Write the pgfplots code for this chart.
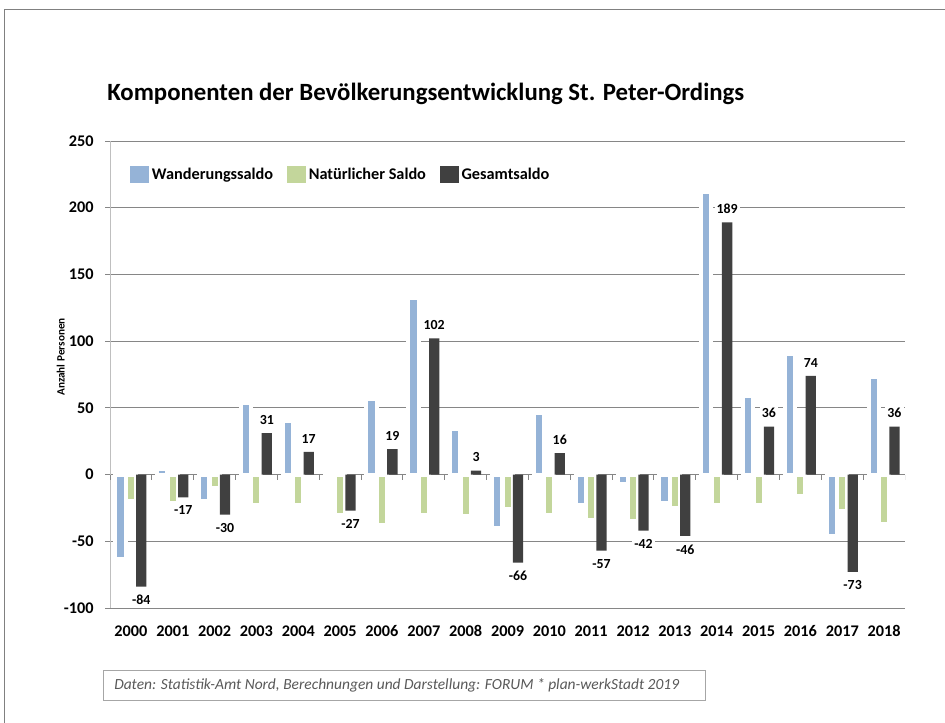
\documentclass[border=0pt]{standalone}
\usepackage{fontspec}
\setmainfont{Carlito}
\usepackage{pgfplots}
\usepackage{pgfplotstable}
\pgfplotsset{compat=1.18}
\definecolor{wblue}{HTML}{95B3D7}
\definecolor{ngreen}{HTML}{C3D69B}
\definecolor{gdark}{HTML}{404040}
\definecolor{gridgray}{HTML}{868686}
\definecolor{axisgray}{HTML}{BFBFBF}
\definecolor{srcgray}{HTML}{595959}

\pgfplotstableread{
x W N G
0 -63 -20 -84
1 4 -21 -17
2 -20 -10 -30
3 54 -23 31
4 40 -23 17
5 3 -30 -27
6 57 -38 19
7 132 -30 102
8 34 -31 3
9 -40 -26 -66
10 46 -30 16
11 -23 -34 -57
12 -7 -35 -42
13 -21 -25 -46
14 212 -23 189
15 59 -23 36
16 90 -16 74
17 -46 -27 -73
18 73 -37 36
}\data

\pgfplotsset{sqlegend/.style={legend image code/.code={\fill[##1,draw=none] (0pt,-6.4pt) rectangle (14.25pt,6.4pt);}}}

\begin{document}
\begin{tikzpicture}
\useasboundingbox (0,0) rectangle (708.75pt,541.5pt);
\fill[white] (0,0) rectangle (708.75pt,541.5pt);
\draw[gray, line width=0.75pt] (3pt,-2pt) -- (3pt,534pt) -- (712pt,534pt);
\node[anchor=base west, font=\bfseries\fontsize{18.6}{22}\selectfont, inner sep=0pt] at (80.25pt,466pt) {Komponenten der Bevölkerungsentwicklung St. Peter-Ordings};
\begin{axis}[
  at={(82.5pt,85.5pt)}, anchor=south west,
  scale only axis, width=596.25pt, height=350.25pt,
  xmin=-0.5, xmax=18.5, ymin=-100, ymax=250,
  ytick={-100,-50,...,250},
  xtick={0,...,18},
  xticklabels={2000,2001,2002,2003,2004,2005,2006,2007,2008,2009,2010,2011,2012,2013,2014,2015,2016,2017,2018},
  /pgf/number format/assume math mode=true,
  ybar,
  axis x line*=bottom, axis y line*=left,
  x axis line style={gridgray, line width=0.75pt},
  y axis line style={axisgray, line width=0.75pt},
  xtick style={draw=none},
  ytick style={gridgray, line width=0.75pt},
  tick align=outside, major tick length=3.75pt,
  ymajorgrids, grid style={gridgray, line width=0.75pt},
  tick label style={font=\bfseries\fontsize{12.2}{14}\selectfont},
  yticklabel style={xshift=-5pt},
  xticklabel style={yshift=-6pt},
  legend style={at={(axis description cs:0,1)}, anchor=north west, xshift=15pt, yshift=-18pt,
    draw=none, fill=none, inner sep=0pt, font=\bfseries\fontsize{12.2}{14}\selectfont,
    /tikz/every even column/.append style={column sep=8.5pt}},
  legend columns=-1,
]
\addplot[ybar, sqlegend, bar width=7.7pt, bar shift=-7.8pt, fill=wblue, draw=white, line width=3pt] table[x=x,y=W]{\data};
\addlegendentry{Wanderungssaldo}
\addplot[ybar, sqlegend, bar width=7.5pt, bar shift=0pt, fill=ngreen, draw=white, line width=3pt] table[x=x,y=N]{\data};
\addlegendentry{Natürlicher Saldo}
\addplot[ybar, sqlegend, bar width=7.7pt, bar shift=7.8pt, fill=gdark, draw=none,
  nodes near coords,
  nodes near coords style={font=\bfseries\fontsize{10.4}{12}\selectfont, text=black, fill=white, inner sep=1.5pt, outer ysep=5pt}] table[x=x,y=G]{\data};
\addlegendentry{Gesamtsaldo}
\pgfplotsinvokeforeach{-0.5,0.5,...,18.5}{\draw[gridgray, line width=0.75pt] (axis cs:#1,0) -- ++(0pt,-4pt);}
\end{axis}
\node[rotate=90, font=\bfseries\fontsize{8.4}{10}\selectfont] at (45.5pt,273.75pt) {Anzahl Personen};
\draw[gray!70, line width=0.75pt] (77.25pt,16.5pt) rectangle (528.75pt,39pt);
\node[anchor=west, font=\itshape\fontsize{11.6}{13}\selectfont, text=srcgray, inner sep=0pt] at (85.5pt,27.75pt) {Daten: Statistik-Amt Nord, Berechnungen und Darstellung: FORUM * plan-werkStadt 2019};
\end{tikzpicture}
\end{document}
